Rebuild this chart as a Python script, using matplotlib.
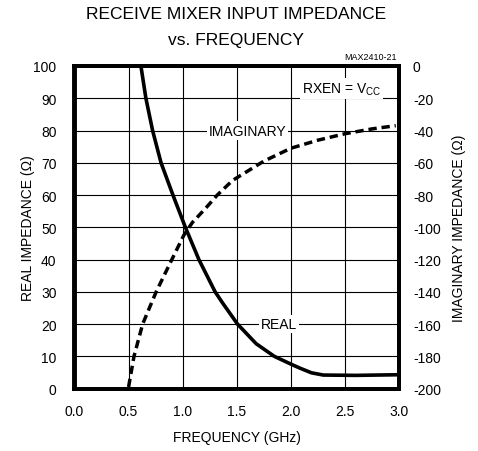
import matplotlib
matplotlib.use("Agg")
import matplotlib.pyplot as plt
from matplotlib import font_manager

plt.rcParams['font.family'] = ['Liberation Sans', 'DejaVu Sans']
plt.rcParams['axes.unicode_minus'] = False
names = {f.name for f in font_manager.fontManager.ttflist}
title_font = 'Liberation Sans Narrow' if 'Liberation Sans Narrow' in names else 'Liberation Sans'

# --- data ---
freq_real = [0.614, 0.66, 0.722, 0.80, 0.91, 1.025, 1.15, 1.30, 1.37, 1.507, 1.68, 1.847, 2.0, 2.08, 2.19, 2.3, 2.6, 3.0]
real_ohm = [100, 90, 80, 70, 60, 50, 40, 30, 26.5, 20, 13.9, 10, 7.6, 6.4, 4.9, 4.2, 4.1, 4.3]

freq_imag = [0.50, 0.55, 0.63, 0.755, 0.90, 1.01, 1.09, 1.215, 1.32, 1.46, 1.75, 2.0, 2.25, 2.5, 2.75, 2.97]
imag_ohm = [-199, -180, -160, -140, -120, -105, -97, -88, -80, -71, -59, -51, -46, -42, -39, -37]

x_ticks = [0.0, 0.5, 1.0, 1.5, 2.0, 2.5, 3.0]
x_ticklabels = ['0.0', '0.5', '1.0', '1.5', '2.0', '2.5', '3.0']
y_left_ticks = list(range(0, 101, 10))
y_right_ticks = list(range(-200, 1, 20))

fig = plt.figure(figsize=(4.78, 4.52), dpi=100)
ax = fig.add_axes([74.5/478, 62.4/452, 324.5/478, 322.6/452])
ax2 = ax.twinx()

ax.set_xlim(0, 3)
ax.set_ylim(0, 100)
ax2.set_ylim(-200, 0)

ax.set_xticks(x_ticks)
ax.set_xticklabels(x_ticklabels)
ax.set_yticks(y_left_ticks)
ax2.set_yticks(y_right_ticks)

ax.grid(True, color='black', lw=0.8, zorder=0)
ax.set_axisbelow(True)

ax.plot(freq_real, real_ohm, color='black', lw=2.6, solid_capstyle='butt',
        solid_joinstyle='round', zorder=3)
l2, = ax2.plot(freq_imag, imag_ohm, color='black', lw=2.5, zorder=3)
l2.set_dashes((2.4, 1.4))

for a in (ax, ax2):
    for s in a.spines.values():
        s.set_linewidth(2.8)
    a.tick_params(length=0, labelsize=10)
ax.tick_params(axis='y', pad=13)
ax.tick_params(axis='x', pad=11)
ax2.tick_params(axis='y', pad=10)

ax.set_xlabel('FREQUENCY (GHz)', fontsize=10)
ax.set_ylabel('REAL IMPEDANCE (Ω)', fontsize=10)
ax2.set_ylabel('IMAGINARY IMPEDANCE (Ω)', fontsize=10)
ax.xaxis.set_label_coords(0.5, -0.128)
ax.yaxis.set_label_coords(-0.122, 0.5)
ax2.yaxis.set_label_coords(1.162, 0.5)

bbox = dict(facecolor='white', edgecolor='none', pad=1.5)
ax.text(1.6, 80, 'IMAGINARY', ha='center', va='center', fontsize=10, bbox=bbox, zorder=4)
ax.text(1.89, 20, 'REAL', ha='center', va='center', fontsize=10, bbox=bbox, zorder=4)
ax.text(2.47, 93, r'RXEN = V$_{\mathregular{CC}}$', ha='center', va='center', fontsize=10, bbox=bbox, zorder=4)

fig.text(397/478, 1 - 57/452, 'MAX2410-21', ha='right', va='center', fontsize=6.5)
fig.text(236/478, 1 - 14.5/452, 'RECEIVE MIXER INPUT IMPEDANCE', ha='center', va='center',
         fontsize=12.5, family=title_font)
fig.text(236/478, 1 - 40.5/452, 'vs. FREQUENCY', ha='center', va='center',
         fontsize=12.5, family=title_font)

fig.savefig('out.png', dpi=100)
